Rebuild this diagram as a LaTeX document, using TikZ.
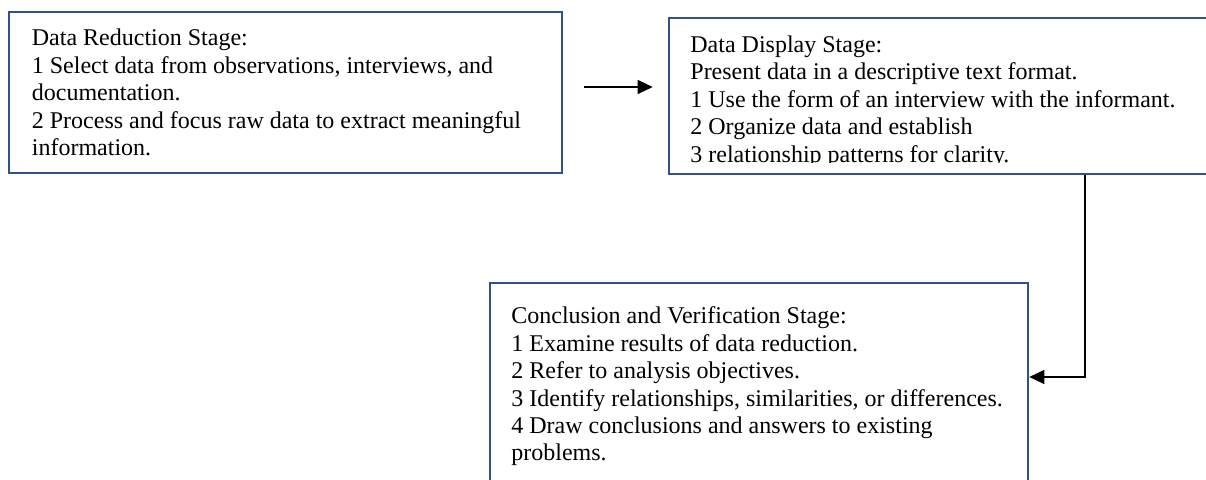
\documentclass[tikz,border=0pt]{standalone}
\usepackage{fontspec}
\setmainfont{Liberation Serif}
\usetikzlibrary{arrows.meta,fit,calc}
\definecolor{boxblue}{RGB}{47,82,143}
\tikzset{
  stagebox/.style={draw=boxblue, line width=1.3pt, inner sep=0pt, rectangle},
  stagetext/.style={anchor=base west, inner sep=0pt, font=\fontsize{12pt}{13.7pt}\selectfont},
  conn/.style={draw=black, line width=0.6pt},
  connarrow/.style={conn, -{Triangle[length=7.5pt,width=7pt]}}
}
\newcommand{\stagelines}[1]{\parbox[t]{300pt}{\raggedright #1}}
\begin{document}
\begin{tikzpicture}[x=0.5pt,y=-0.5pt]
\useasboundingbox (0,0) rectangle (1206,480);
\clip (0,0) rectangle (1206,480);
% boxes
\node[stagebox, fit={(9,12) (562,173)}] (b1) {};
\node[stagebox, fit={(669,18) (1230,174)}] (b2) {};
\node[stagebox, fit={(490,283) (1028,500)}] (b3) {};
% texts
\node[stagetext] (t1) at (31.5,46) {\stagelines{Data Reduction Stage:\\
1 Select data from observations, interviews, and\\
documentation.\\
2 Process and focus raw data to extract meaningful\\
information.}};
\begin{scope}
\clip (669,18) rectangle (1206,162.5);
\node[stagetext] (t2) at (690,52.5) {\stagelines{Data Display Stage:\\
Present data in a descriptive text format.\\
1 Use the form of an interview with the informant.\\
2 Organize data and establish\\
3 relationship patterns for clarity.}};
\end{scope}
\node[stagetext] (t3) at (511,324) {\stagelines{Conclusion and Verification Stage:\\
1 Examine results of data reduction.\\
2 Refer to analysis objectives.\\
3 Identify relationships, similarities, or differences.\\
4 Draw conclusions and answers to existing\\
problems.}};
% connectors
\coordinate (a1) at (584,87);
\draw[connarrow] (a1) -- ($(a1 -| b2.west)+(-15,0)$);
\coordinate (turn) at (1085,377);
\draw[connarrow] (turn |- b2.south) -- (turn) -- (turn -| b3.east);
\end{tikzpicture}
\end{document}
